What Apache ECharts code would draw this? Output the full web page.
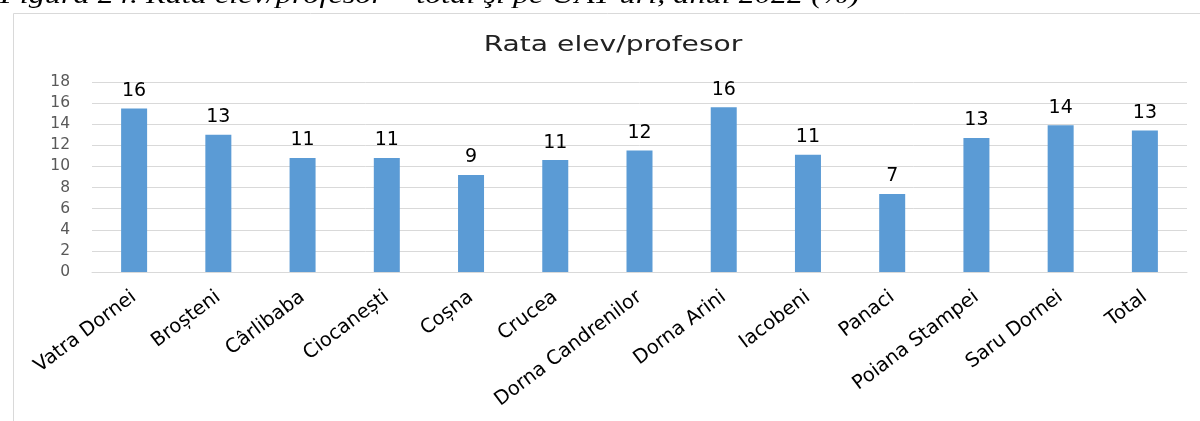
<!DOCTYPE html>
<html><head><meta charset="utf-8">
<script src="https://cdn.jsdelivr.net/npm/echarts@6/dist/echarts.min.js"></script>
<style>html,body{margin:0;padding:0;background:#fff}#c{width:1200px;height:421px}</style>
</head><body><div id="c"></div>
<script>
const categories = ["Vatra Dornei","Broșteni","Cârlibaba","Ciocanești","Coșna","Crucea","Dorna Candrenilor","Dorna Arini","Iacobeni","Panaci","Poiana Stampei","Saru Dornei","Total"];
const values = [15.5, 13.0, 10.8, 10.8, 9.2, 10.6, 11.5, 15.6, 11.1, 7.4, 12.7, 13.9, 13.4];
const yTicks = {min: 0, max: 18, interval: 2};
const titleText = "Rata elev/profesor";
const captionText = "Figura 24. Rata elev/profesor – total şi pe UAT-uri, anul 2022 (%)";

const FONT = '"DejaVu Sans", "Open Sans", sans-serif';
const chart = echarts.init(document.getElementById('c'), null, {renderer: 'canvas'});
chart.setOption({
  animation: false,
  backgroundColor: '#fff',
  graphic: [
    {type: 'rect', left: 11, top: 11, shape: {width: 1300, height: 500}, style: {fill: 'none', stroke: '#d9d9d9', lineWidth: 1}, silent: true},
    {type: 'text', x: 0, y: -4, scaleX: 1.29, style: {text: captionText, font: 'italic 25px "Liberation Serif"', fill: '#000', verticalAlign: 'middle'}},
    {type: 'text', x: 613, y: 46, scaleX: 1.34, style: {text: titleText, font: '21px ' + FONT, fill: '#222', align: 'center', verticalAlign: 'middle'}}
  ],
  grid: {left: 92, right: 13, top: 82, bottom: 149, containLabel: false},
  xAxis: {
    type: 'category', data: categories,
    axisLine: {lineStyle: {color: '#d9d9d9'}},
    axisTick: {show: false},
    axisLabel: {rotate: 37, interval: 0, margin: 23, fontFamily: FONT, fontSize: 19.5, color: '#000'}
  },
  yAxis: {
    type: 'value', min: yTicks.min, max: yTicks.max, interval: yTicks.interval,
    axisLine: {show: false}, axisTick: {show: false},
    splitLine: {lineStyle: {color: '#d9d9d9', width: 1}},
    axisLabel: {margin: 22, fontFamily: FONT, fontSize: 15.5, color: '#595959'}
  },
  series: [{
    type: 'bar', data: values, barWidth: 26,
    itemStyle: {color: '#5b9bd5'},
    label: {show: true, position: 'top', distance: 8, fontFamily: FONT, fontSize: 19, color: '#000',
      formatter: p => Math.round(p.value)}
  }]
});
</script></body></html>
